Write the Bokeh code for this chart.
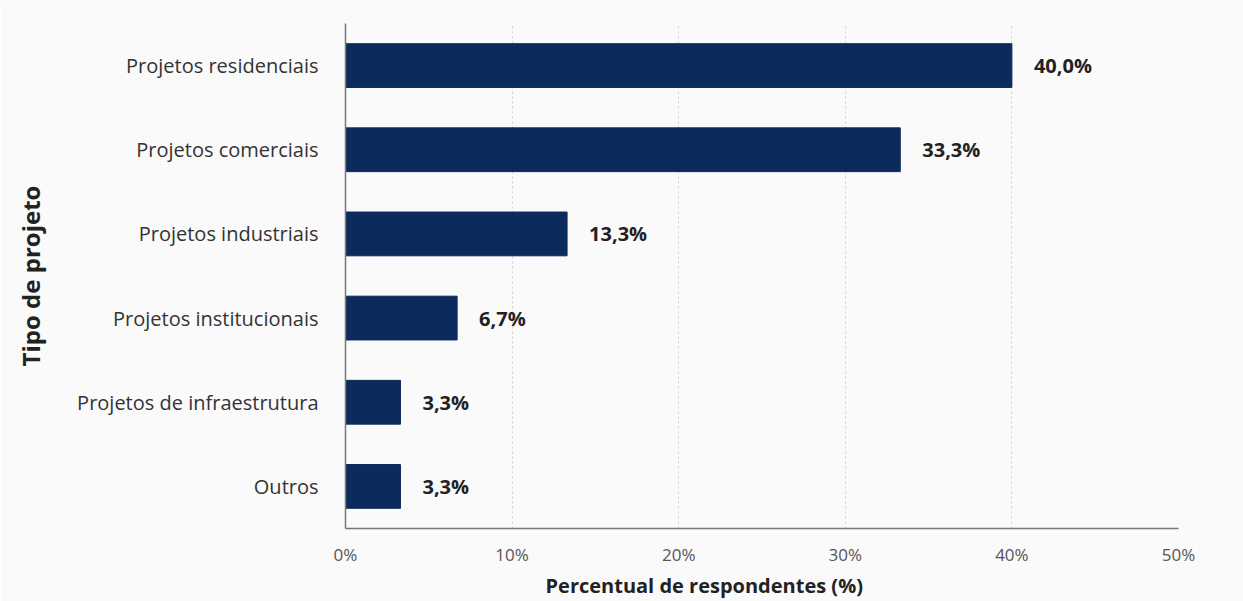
from bokeh.plotting import figure
from bokeh.models import Range1d, FactorRange, ColumnDataSource, LabelSet, Title, FixedTicker, CustomJSTickFormatter
from bokeh.core.properties import value
from bokeh.embed import file_html
from bokeh.resources import INLINE

categories = ["Projetos residenciais", "Projetos comerciais", "Projetos industriais",
              "Projetos institucionais", "Projetos de infraestrutura", "Outros"]
values = [40.0, 33.3, 13.3, 6.7, 3.3, 3.3]
value_labels = ["40,0%", "33,3%", "13,3%", "6,7%", "3,3%", "3,3%"]
x_ticks = [0, 10, 20, 30, 40, 50]

FONT = "Open Sans"
BG = "#fafafa"

p = figure(width=1243, height=601, output_backend="svg", toolbar_location=None,
           y_range=FactorRange(factors=list(reversed(categories))),
           x_range=Range1d(0, 50),
           min_border_left=345, min_border_right=65, min_border_top=23, min_border_bottom=73,
           background_fill_color=BG, border_fill_color=BG, outline_line_color=None)

src = ColumnDataSource(dict(cat=categories, val=values, lab=value_labels))
p.hbar(y="cat", right="val", left=0, height=0.52, source=src,
       fill_color="#0c2b5c", line_color="#0c2b5c")

labels = LabelSet(x="val", y="cat", text="lab", source=src, x_offset=22,
                  text_font=value(FONT), text_font_size=value("20px"), text_font_style=value("bold"),
                  text_color=value("#222222"), text_baseline=value("middle"), text_align=value("left"))
p.add_layout(labels)

# grid
p.ygrid.grid_line_color = None
p.xgrid.ticker = FixedTicker(ticks=x_ticks[1:])
p.xgrid.grid_line_color = "#d0d0d0"
p.xgrid.grid_line_dash = "2 3"
p.xgrid.grid_line_width = 1

# x axis
p.xaxis.ticker = FixedTicker(ticks=x_ticks)
p.xaxis.formatter = CustomJSTickFormatter(code="return tick + '%';")
p.xaxis.major_tick_line_color = None
p.xaxis.minor_tick_line_color = None
p.xaxis.axis_line_color = "#777777"
p.xaxis.axis_line_width = 1.5
p.xaxis.major_label_text_font = FONT
p.xaxis.major_label_text_font_size = "17px"
p.xaxis.major_label_text_color = "#555555"
p.xaxis.major_label_standoff = 8

# y axis
p.yaxis.major_tick_line_color = None
p.yaxis.minor_tick_line_color = None
p.yaxis.axis_line_color = "#777777"
p.yaxis.axis_line_width = 1.5
p.yaxis.major_label_text_font = FONT
p.yaxis.major_label_text_font_size = "20px"
p.yaxis.major_label_text_color = "#333333"
p.yaxis.major_label_standoff = 21
p.yaxis.axis_label = "Tipo de projeto"
p.yaxis.axis_label_text_font = FONT
p.yaxis.axis_label_text_font_size = "24px"
p.yaxis.axis_label_text_font_style = "bold"
p.yaxis.axis_label_text_color = "#222222"
p.yaxis.axis_label_standoff = 27

xt = Title(text="Percentual de respondentes (%)", align="left", offset=200,
           text_font=FONT, text_font_size="20px", text_font_style="bold",
           text_color="#222222", standoff=2)
p.add_layout(xt, "below")

open("out.html", "w").write(file_html(p, INLINE))
